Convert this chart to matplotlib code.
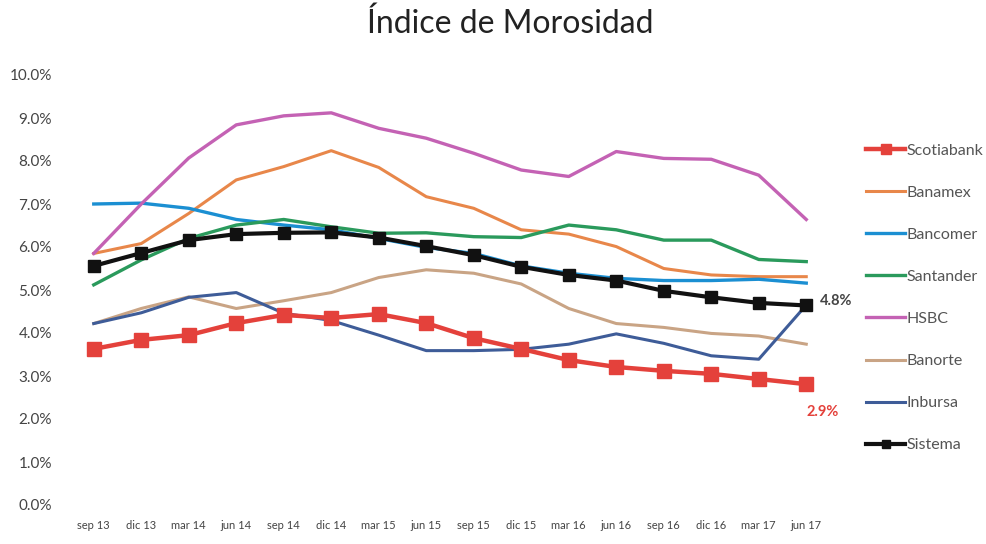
import matplotlib
matplotlib.use("Agg")
import matplotlib.pyplot as plt

plt.rcParams['font.family'] = ['Lato', 'DejaVu Sans']

periods = ["sep 13", "dic 13", "mar 14", "jun 14", "sep 14", "dic 14", "mar 15", "jun 15",
           "sep 15", "dic 15", "mar 16", "jun 16", "sep 16", "dic 16", "mar 17", "jun 17"]

scotiabank = [3.63, 3.84, 3.95, 4.23, 4.42, 4.35, 4.44, 4.23, 3.88, 3.63, 3.37, 3.21, 3.12, 3.05, 2.93, 2.81]
banamex    = [5.85, 6.08, 6.78, 7.56, 7.87, 8.24, 7.85, 7.17, 6.90, 6.40, 6.30, 6.01, 5.50, 5.35, 5.31, 5.31]
bancomer   = [7.00, 7.02, 6.90, 6.64, 6.51, 6.40, 6.20, 5.99, 5.85, 5.56, 5.39, 5.27, 5.22, 5.22, 5.25, 5.16]
santander  = [5.12, 5.70, 6.20, 6.51, 6.64, 6.47, 6.32, 6.33, 6.24, 6.22, 6.51, 6.40, 6.16, 6.16, 5.71, 5.66]
hsbc       = [5.85, 7.00, 8.07, 8.84, 9.05, 9.12, 8.76, 8.53, 8.18, 7.79, 7.64, 8.22, 8.06, 8.04, 7.67, 6.64]
banorte    = [4.22, 4.57, 4.84, 4.57, 4.75, 4.94, 5.29, 5.47, 5.39, 5.14, 4.57, 4.22, 4.13, 3.99, 3.93, 3.74]
inbursa    = [4.22, 4.47, 4.83, 4.94, 4.46, 4.29, 3.95, 3.59, 3.59, 3.62, 3.74, 3.98, 3.76, 3.47, 3.39, 4.65]
sistema    = [5.56, 5.86, 6.16, 6.30, 6.33, 6.34, 6.22, 6.02, 5.81, 5.54, 5.35, 5.22, 4.98, 4.83, 4.70, 4.64]

y_ticks = [0, 1, 2, 3, 4, 5, 6, 7, 8, 9, 10]
y_tick_labels = ["0.0%", "1.0%", "2.0%", "3.0%", "4.0%", "5.0%", "6.0%", "7.0%", "8.0%", "9.0%", "10.0%"]
sistema_label = "4.8%"
scotia_label = "2.9%"

fig = plt.figure(figsize=(9.87, 5.44), dpi=100)
ax = fig.add_axes([70/987, 1 - 505/544, 760/987, 430/544])

x = list(range(len(periods)))

ax.plot(x, banamex, color="#e8874a", lw=2.2, label="Banamex", zorder=2)
ax.plot(x, bancomer, color="#1b8fd2", lw=2.4, label="Bancomer", zorder=2)
ax.plot(x, santander, color="#2a9a5c", lw=2.4, label="Santander", zorder=2)
ax.plot(x, hsbc, color="#c462b4", lw=2.4, label="HSBC", zorder=2)
ax.plot(x, banorte, color="#c9a485", lw=2.2, label="Banorte", zorder=2)
ax.plot(x, inbursa, color="#3e5c98", lw=2.2, label="Inbursa", zorder=2)
ax.plot(x, scotiabank, color="#e4413b", lw=3.2, marker="s", markersize=10, label="Scotiabank", zorder=3)
ax.plot(x, sistema, color="#111111", lw=3.0, marker="s", markersize=9, label="Sistema", zorder=4)

ax.set_xlim(-0.5, len(periods) - 0.5)
ax.set_ylim(0, 10)
ax.set_xticks(x)
ax.set_xticklabels(periods, fontsize=8, color="#444444")
ax.set_yticks(y_ticks)
ax.set_yticklabels(y_tick_labels, fontsize=11, color="#444444")
ax.tick_params(axis="both", length=0)
ax.tick_params(axis="x", pad=11)
ax.tick_params(axis="y", pad=13)
for s in ax.spines.values():
    s.set_visible(False)

ax.annotate(sistema_label, xy=(x[-1], sistema[-1]), xytext=(10, 3), textcoords="offset points",
            fontsize=10.5, fontweight="bold", color="#444444", va="center", ha="left")
ax.annotate(scotia_label, xy=(x[-1], scotiabank[-1]), xytext=(0, -20), textcoords="offset points",
            fontsize=10.5, fontweight="bold", color="#e4413b", va="center", ha="left")

fig.text(510/987, 1 - 24/544, "Índice de Morosidad", fontsize=23, ha="center", va="center",
         color="#222222", fontweight="normal")

handles, labels = ax.get_legend_handles_labels()
order = ["Scotiabank", "Banamex", "Bancomer", "Santander", "HSBC", "Banorte", "Inbursa", "Sistema"]
hmap = dict(zip(labels, handles))
leg = fig.legend([hmap[k] for k in order], order, loc="upper left",
                 bbox_to_anchor=(852/987, 1 - 129/544), frameon=False, fontsize=11.5,
                 labelspacing=1.75, handlelength=2.4, handletextpad=0.1, labelcolor="#555555",
                 markerscale=0.7)

fig.savefig("out.png", dpi=100)
